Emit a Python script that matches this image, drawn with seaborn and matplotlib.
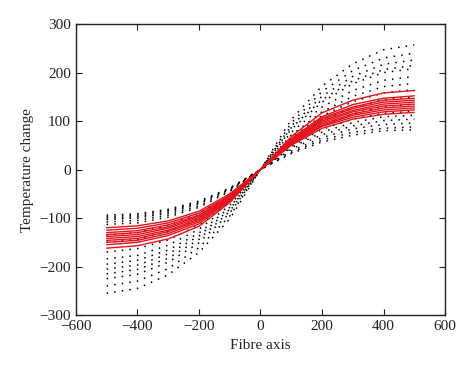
import seaborn as sns
import pandas as pd
import matplotlib
import matplotlib.pyplot as plt
matplotlib.use('Agg')

# fibre axis positions
fibre_x = [-500, -400, -300, -200, -100, 0, 100, 200, 300, 400, 500]

# black dotted curves (temperature change at each fibre_x)
black_curves = [
    [-255, -245, -217, -171, -102, 0, 103, 172, 218, 247, 257],
    [-240, -230, -204, -161, -96, 0, 96, 161, 204, 230, 240],
    [-225, -216, -191, -151, -90, 0, 90, 151, 192, 217, 226],
    [-215, -206, -183, -144, -86, 0, 86, 144, 183, 206, 215],
    [-205, -197, -174, -137, -82, 0, 83, 139, 177, 200, 208],
    [-195, -187, -166, -131, -78, 0, 77, 129, 163, 184, 192],
    [-184, -177, -156, -123, -74, 0, 71, 119, 151, 171, 178],
    [-170, -163, -145, -114, -68, 0, 66, 111, 140, 158, 165],
    [-150, -144, -128, -101, -60, 0, 60, 101, 128, 144, 150],
    [-135, -130, -115, -90, -54, 0, 54, 90, 115, 130, 135],
    [-113, -110, -98, -78, -45, 0, 48, 83, 104, 116, 120],
    [-108, -105, -94, -75, -43, 0, 45, 77, 97, 109, 112],
    [-100, -97, -87, -69, -40, 0, 42, 72, 90, 101, 104],
    [-94, -91, -82, -65, -38, 0, 38, 66, 84, 93, 96],
    [-97, -94, -84, -67, -39, 0, 35, 61, 77, 85, 88],
    [-103, -100, -90, -71, -41, 0, 33, 57, 71, 80, 82],
]

# red solid curves
red_curves = [
    [-162, -157, -143, -117, -68, 0, 68, 117, 143, 158, 163],
    [-155, -150, -136, -112, -65, 0, 64, 109, 134, 147, 152],
    [-150, -146, -132, -108, -63, 0, 62, 106, 129, 143, 147],
    [-146, -142, -128, -105, -61, 0, 60, 103, 126, 139, 143],
    [-142, -138, -125, -102, -60, 0, 58, 100, 122, 135, 139],
    [-138, -134, -121, -99, -58, 0, 57, 97, 119, 131, 135],
    [-134, -130, -118, -96, -56, 0, 55, 94, 115, 127, 131],
    [-130, -126, -114, -94, -55, 0, 53, 91, 112, 123, 127],
    [-125, -121, -110, -90, -53, 0, 52, 89, 108, 119, 123],
    [-120, -116, -106, -86, -50, 0, 50, 85, 104, 114, 118],
]

x_ticks = [-600, -400, -200, 0, 200, 400, 600]
y_ticks = [-300, -200, -100, 0, 100, 200, 300]

sns.set_style("ticks")
plt.rcParams['font.family'] = ['Liberation Serif', 'DejaVu Serif']

fig = plt.figure(figsize=(4.74, 3.76), dpi=100)
ax = fig.add_axes([0.160, 0.162, 0.779, 0.774])

for c in black_curves:
    df = pd.DataFrame({"x": fibre_x, "y": c})
    sns.lineplot(data=df, x="x", y="y", ax=ax, color="black", linewidth=1.1,
                 linestyle=(0, (1, 4)), estimator=None, zorder=2)

for c in red_curves:
    df = pd.DataFrame({"x": fibre_x, "y": c})
    sns.lineplot(data=df, x="x", y="y", ax=ax, color="#e3121b", linewidth=1.0,
                 estimator=None, zorder=3)

ax.set_xlim(-600, 600)
ax.set_ylim(-300, 300)
ax.set_xticks(x_ticks)
ax.set_yticks(y_ticks)
ax.tick_params(direction="in", top=True, right=True, length=4, width=0.8,
               labelsize=11, colors="#222222")
for s in ax.spines.values():
    s.set_linewidth(1.0)
    s.set_color("#222222")
ax.set_xlabel("Fibre axis", fontsize=11)
ax.set_ylabel("Temperature change", fontsize=11)

fig.savefig("out.png", dpi=100)
